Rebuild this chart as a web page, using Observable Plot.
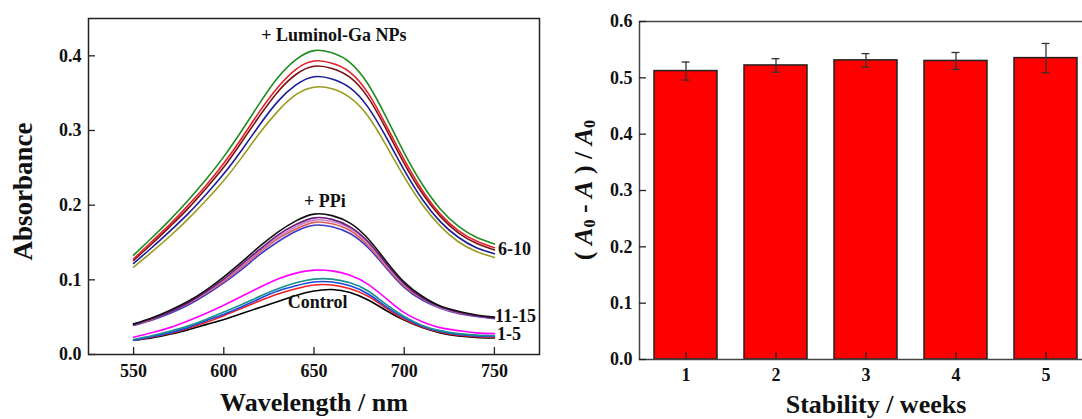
<!DOCTYPE html>
<html>
<head>
<meta charset="utf-8">
<script src="https://cdn.jsdelivr.net/npm/d3@7"></script>
<script src="https://cdn.jsdelivr.net/npm/@observablehq/plot@0.6"></script>
<style>
  html, body { margin: 0; padding: 0; background: #fff; overflow: hidden; }
  #wrap { position: relative; width: 1082px; height: 419px; overflow: hidden; background: #fff; }
  #left { position: absolute; left: 0; top: 0; }
  #right { position: absolute; left: 545px; top: 0; }
  svg text { font-family: 'Liberation Serif', 'Times New Roman', serif !important; }
</style>
</head>
<body>
<div id="wrap"><div id="left"></div><div id="right"></div></div>
<script>
// ---------- Left panel data: absorbance spectra ----------
const wavelengths = [550,560,570,580,590,600,610,620,630,640,650,660,670,680,690,700,710,720,730,740,750];

// + Luminol-Ga NPs (curves 6-10)
const nps_green  = [0.133,0.156,0.180,0.206,0.234,0.265,0.300,0.337,0.371,0.395,0.407,0.404,0.391,0.362,0.318,0.270,0.228,0.195,0.172,0.157,0.148];
const nps_red    = [0.128,0.151,0.174,0.199,0.226,0.256,0.290,0.326,0.358,0.382,0.393,0.390,0.378,0.350,0.307,0.261,0.220,0.188,0.166,0.152,0.143];
const nps_maroon = [0.126,0.148,0.171,0.195,0.222,0.251,0.285,0.320,0.352,0.375,0.386,0.383,0.371,0.344,0.302,0.256,0.216,0.185,0.163,0.149,0.140];
const nps_blue   = [0.122,0.143,0.165,0.188,0.214,0.242,0.274,0.308,0.339,0.361,0.372,0.369,0.357,0.331,0.291,0.247,0.208,0.178,0.157,0.143,0.135];
const nps_olive  = [0.117,0.137,0.158,0.181,0.206,0.233,0.264,0.297,0.326,0.348,0.358,0.356,0.344,0.319,0.280,0.238,0.201,0.172,0.151,0.138,0.130];

// + PPi (curves 11-15)
const ppi_blue   = [0.039,0.046,0.055,0.066,0.080,0.096,0.114,0.134,0.151,0.165,0.173,0.171,0.162,0.143,0.116,0.090,0.073,0.062,0.055,0.051,0.048];
const ppi_red    = [0.040,0.047,0.057,0.068,0.082,0.098,0.117,0.137,0.155,0.168,0.177,0.175,0.166,0.146,0.118,0.092,0.075,0.063,0.056,0.052,0.049];
const ppi_pink   = [0.040,0.048,0.057,0.069,0.083,0.100,0.119,0.139,0.157,0.171,0.180,0.178,0.169,0.149,0.120,0.094,0.076,0.063,0.057,0.052,0.049];
const ppi_purple = [0.040,0.048,0.057,0.069,0.084,0.101,0.121,0.141,0.160,0.174,0.183,0.181,0.171,0.151,0.122,0.095,0.076,0.064,0.057,0.052,0.049];
const ppi_black  = [0.041,0.049,0.059,0.071,0.086,0.104,0.124,0.145,0.164,0.179,0.188,0.186,0.176,0.155,0.125,0.097,0.078,0.065,0.058,0.053,0.050];

// Control (curves 1-5)
const ctl_black   = [0.019,0.022,0.027,0.033,0.040,0.047,0.055,0.063,0.071,0.079,0.085,0.087,0.083,0.073,0.059,0.046,0.036,0.029,0.025,0.023,0.022];
const ctl_red     = [0.019,0.023,0.028,0.035,0.043,0.052,0.062,0.072,0.081,0.088,0.093,0.093,0.088,0.078,0.062,0.047,0.037,0.030,0.026,0.024,0.023];
const ctl_blue    = [0.019,0.024,0.029,0.036,0.045,0.054,0.064,0.075,0.085,0.092,0.097,0.097,0.092,0.081,0.064,0.049,0.038,0.031,0.027,0.025,0.024];
const ctl_teal    = [0.020,0.025,0.031,0.038,0.047,0.057,0.067,0.078,0.088,0.096,0.101,0.101,0.096,0.085,0.067,0.051,0.039,0.032,0.028,0.026,0.025];
const ctl_magenta = [0.023,0.029,0.036,0.045,0.055,0.066,0.078,0.090,0.101,0.109,0.113,0.112,0.106,0.094,0.075,0.056,0.044,0.036,0.032,0.029,0.028];

const spectra = [
  {values: nps_olive, color: "#9b9b1e"},
  {values: nps_blue, color: "#1c1c9a"},
  {values: nps_maroon, color: "#7a1414"},
  {values: nps_red, color: "#e6202a"},
  {values: nps_green, color: "#1f8c1f"},
  {values: ppi_blue, color: "#3a3ac8"},
  {values: ppi_red, color: "#e05a5a"},
  {values: ppi_pink, color: "#c97fc9"},
  {values: ppi_purple, color: "#6c1b7c"},
  {values: ppi_black, color: "#111111"},
  {values: ctl_black, color: "#000000"},
  {values: ctl_red, color: "#f02020"},
  {values: ctl_blue, color: "#1a4ae0"},
  {values: ctl_teal, color: "#1a9090"},
  {values: ctl_magenta, color: "#ff00ff"}
];

const specXTicks = [550, 600, 650, 700, 750];
const specYTicks = [0, 0.1, 0.2, 0.3, 0.4];

// annotation labels (in data coordinates)
const annoText = ["+ Luminol-Ga NPs", "+ PPi", "Control", "6-10", "11-15", "1-5"];
const annoX    = [661, 656, 652, 752, 750.4, 751.5];
const annoY    = [0.420, 0.197, 0.062, 0.133, 0.043, 0.019];
const annoAnchor = ["middle", "middle", "middle", "start", "start", "start"];

// ---------- Right panel data: stability ----------
const weeks = [1, 2, 3, 4, 5];
const meanValues = [0.512, 0.522, 0.531, 0.530, 0.535];
const errValues  = [0.016, 0.012, 0.012, 0.015, 0.026];
const stabYTicks = [0, 0.1, 0.2, 0.3, 0.4, 0.5, 0.6];

const FONT = "'Liberation Serif', 'Times New Roman', serif";
const INK = "#222";
const txt = {fontFamily: FONT, fontWeight: "bold", fill: "#111"};

// ---------- Left plot ----------
{
  const W = 545, H = 419, mL = 88, mR = 6, mT = 18, mB = 65;
  const innerW = W - mL - mR, innerH = H - mT - mB;
  const annos = annoText.map((t, i) => ({t, x: annoX[i], y: annoY[i], a: annoAnchor[i]}));
  const plot = Plot.plot({
    width: W, height: H,
    marginLeft: mL, marginRight: mR, marginTop: mT, marginBottom: mB,
    style: {fontFamily: FONT, fontWeight: "bold", fontSize: "18px", background: "transparent", overflow: "visible", maxWidth: "none", color: "#111"},
    x: {domain: [525, 775], label: null},
    y: {domain: [0, 0.45], label: null},
    marks: [
      ...spectra.map(s => Plot.line(wavelengths, {x: d => d, y: (d, i) => s.values[i], stroke: s.color, strokeWidth: 1.6, curve: "natural"})),
      Plot.frame({stroke: INK, strokeWidth: 1.5}),
      Plot.tickX(specXTicks, {x: d => d, insetTop: innerH - 7, stroke: INK, strokeWidth: 1.3}),
      Plot.tickY(specYTicks, {y: d => d, insetRight: innerW - 7, stroke: INK, strokeWidth: 1.3}),
      Plot.axisX(specXTicks, {tickSize: 0, tickPadding: 10, fontSize: 18, ...txt}),
      Plot.axisY(specYTicks, {tickSize: 0, tickPadding: 7, tickFormat: d3.format(".1f"), fontSize: 18, ...txt}),
      ...["middle", "start"].map(a => Plot.text(annos.filter(d => d.a === a), {x: "x", y: "y", text: "t", textAnchor: a, lineAnchor: "bottom", fontSize: 18, ...txt})),
      Plot.text(["Wavelength / nm"], {frameAnchor: "bottom", dy: 56, lineAnchor: "bottom", text: d => d, fontSize: 26, ...txt}),
      Plot.text(["Absorbance"], {frameAnchor: "left", dx: -65, dy: 5, rotate: -90, textAnchor: "middle", lineAnchor: "middle", text: d => d, fontSize: 27, ...txt})
    ]
  });
  document.getElementById("left").appendChild(plot);
}

// ---------- Right plot ----------
{
  const W = 557, H = 419, mL = 94, mR = 10, mT = 21, mB = 60;
  const innerW = W - mL - mR, innerH = H - mT - mB;
  const rows = weeks.map((w, i) => ({w, m: meanValues[i], lo: meanValues[i] - errValues[i], hi: meanValues[i] + errValues[i]}));
  const plot = Plot.plot({
    width: W, height: H,
    marginLeft: mL, marginRight: mR, marginTop: mT, marginBottom: mB,
    style: {fontFamily: FONT, fontWeight: "bold", fontSize: "18px", background: "transparent", overflow: "visible", maxWidth: "none", color: "#111"},
    x: {type: "band", domain: weeks, paddingInner: 0.3, paddingOuter: 0.15, label: null},
    y: {domain: [0, 0.6], label: null},
    marks: [
      Plot.barY(rows, {x: "w", y: "m", fill: "#ff0000", stroke: INK, strokeWidth: 1.5}),
      Plot.ruleX(rows, {x: "w", y1: "lo", y2: "hi", stroke: "#333", strokeWidth: 1.3}),
      Plot.tickY(rows, {x: "w", y: "lo", insetLeft: 27.5, insetRight: 27.5, stroke: "#333", strokeWidth: 1.3}),
      Plot.tickY(rows, {x: "w", y: "hi", insetLeft: 27.5, insetRight: 27.5, stroke: "#333", strokeWidth: 1.3}),
      Plot.frame({stroke: "#444", strokeWidth: 1.5}),
      Plot.tickX(weeks, {x: d => d, insetTop: innerH - 7, stroke: INK, strokeWidth: 1.3}),
      Plot.tickY(stabYTicks, {y: d => d, insetRight: innerW - 7, stroke: INK, strokeWidth: 1.3}),
      Plot.axisX({tickSize: 0, tickPadding: 9, fontSize: 18, ...txt}),
      Plot.axisY(stabYTicks, {tickSize: 0, tickPadding: 7, tickFormat: d3.format(".1f"), fontSize: 18, ...txt}),
      Plot.text(["Stability / weeks"], {frameAnchor: "bottom", dx: 10, dy: 53, lineAnchor: "bottom", text: d => d, fontSize: 26, ...txt})
    ]
  });
  // y-axis title with italic A and subscript 0
  const svg = d3.select(plot.tagName.toLowerCase() === "svg" ? plot : plot.querySelector("svg"));
  const t = svg.append("text")
    .attr("transform", `translate(${583 - 545},${(mT + H - mB) / 2}) rotate(-90)`)
    .attr("text-anchor", "middle")
    .attr("dominant-baseline", "central")
    .attr("font-family", FONT)
    .attr("font-weight", "bold")
    .attr("font-size", 26)
    .attr("fill", "#111");
  const parts = [
    ["( ", null], ["A", "i"], ["0", "sub"], [" - ", null], ["A", "i"], [" ) / ", null], ["A", "i"], ["0", "sub"]
  ];
  let shifted = false;
  parts.forEach(([s, kind]) => {
    const sp = t.append("tspan").text(s);
    if (kind === "i") sp.attr("font-style", "italic");
    if (kind === "sub") { sp.attr("font-size", 16).attr("dy", 6); shifted = true; }
    else if (shifted) { sp.attr("dy", -6); shifted = false; }
  });
  document.getElementById("right").appendChild(plot);
}
</script>
</body>
</html>
